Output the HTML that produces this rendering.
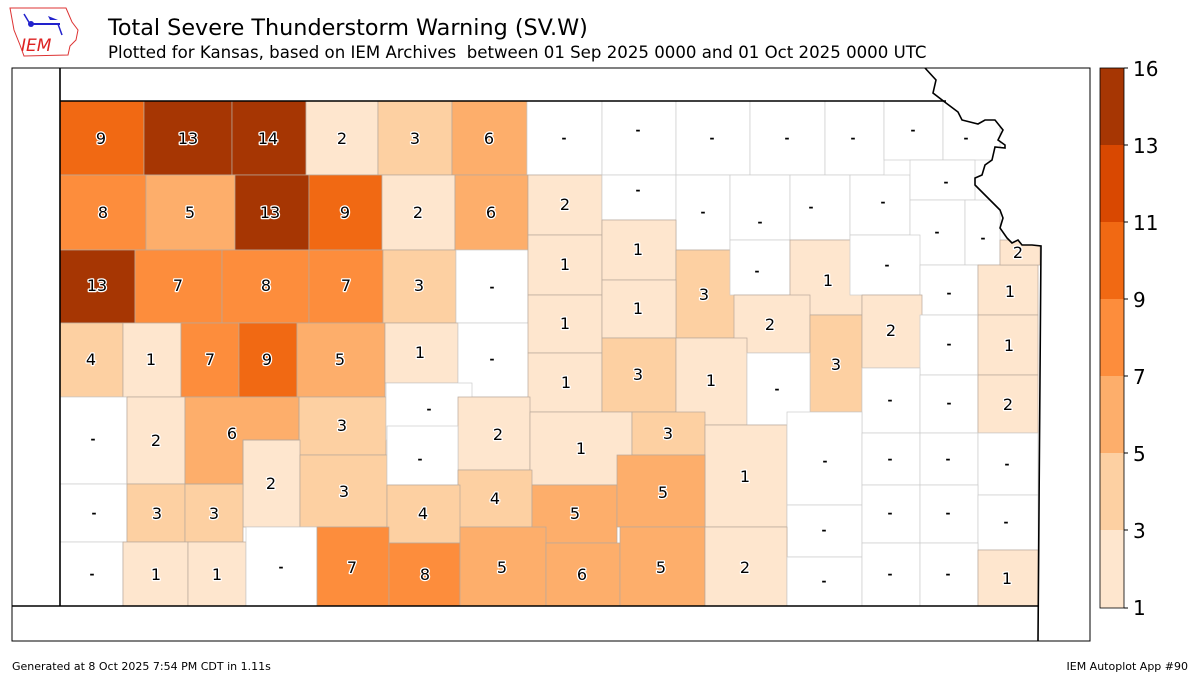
<!DOCTYPE html>
<html><head><meta charset="utf-8">
<style>
html,body{margin:0;padding:0;background:#fff;width:1200px;height:675px;overflow:hidden}
svg{display:block}
text{font-family:"DejaVu Sans","Liberation Sans",sans-serif}
</style></head><body>
<svg id="s" width="1200" height="675" xmlns="http://www.w3.org/2000/svg">
<rect width="1200" height="675" fill="#fff"/>
<g>
<path d="M10,8 L66,8 L72,22 L78,30 L76,40 L70,46 L68,55 L24,56 L20,45 L14,30 Z" fill="none" stroke="#d33" stroke-width="1"/>
<line x1="30" y1="24" x2="60" y2="24" stroke="#22c" stroke-width="2"/>
<circle cx="31" cy="24" r="3" fill="#22c"/>
<line x1="24" y1="14" x2="30" y2="24" stroke="#22c" stroke-width="1.5"/>
<path d="M48,16 L58,20 L50,20 Z" fill="#22c"/>
<line x1="58" y1="24" x2="62" y2="35" stroke="#22c" stroke-width="1.5"/>
<text x="21" y="51" font-family="Liberation Serif,serif" font-style="italic" font-size="17" fill="#d22">IEM</text>
</g>
<text x="108" y="35" font-size="22.3" fill="#000">Total Severe Thunderstorm Warning (SV.W)</text>
<text x="108" y="58" font-size="16.6" fill="#000" xml:space="preserve">Plotted for Kansas, based on IEM Archives  between 01 Sep 2025 0000 and 01 Oct 2025 0000 UTC</text>
<text x="12" y="670" font-size="11" fill="#000">Generated at 8 Oct 2025 7:54 PM CDT in 1.11s</text>
<text x="1188" y="670" font-size="11" fill="#000" text-anchor="end">IEM Autoplot App #90</text>
<g id="counties"></g>
<polygon points="185,397 299,397 299,440 243,440 243,484 185,484" fill="none" stroke="#b8a89a" stroke-width="0.7"/>
<polygon points="925,68 936,80 933,93 946,103 958,112 962,120 970,122 978,124 985,120 995,120 1003,130 998,140 1005,145 1005,148 995,147 992,160 985,165 982,175 975,178 975,185 985,195 990,200 995,205 1000,210 1003,218 1000,228 1007,238 1012,243 1018,240 1022,245 1032,245 1041,246 1089,246 1089,69 925,69" fill="#fff" stroke="none"/>
<g id="labels"></g>
<g fill="none" stroke="#000" stroke-width="1.6">
<polyline points="60,68 60,606"/>
<polyline points="12,606 1038,606"/>
<polyline points="60,101 946,101"/>
<polyline points="925,68 936,80 933,93 946,103 958,112 962,120 970,122 978,124 985,120 995,120 1003,130 998,140 1005,145 1005,148 995,147 992,160 985,165 982,175 975,178 975,185 985,195 990,200 995,205 1000,210 1003,218 1000,228 1007,238 1012,243 1018,240 1022,245 1032,245 1041,246 1038,641"/>
</g>
<rect x="12" y="68" width="1078" height="573" fill="none" stroke="#000" stroke-width="1"/>
<g>
<rect x="1100" y="530" width="24" height="78" fill="#fee6ce"/>
<rect x="1100" y="453" width="24" height="77" fill="#fdd0a2"/>
<rect x="1100" y="376" width="24" height="77" fill="#fdae6b"/>
<rect x="1100" y="299" width="24" height="77" fill="#fd8d3c"/>
<rect x="1100" y="222" width="24" height="77" fill="#f16913"/>
<rect x="1100" y="145" width="24" height="77" fill="#d94801"/>
<rect x="1100" y="68" width="24" height="77" fill="#a63603"/>
<rect x="1100" y="68" width="24" height="540" fill="none" stroke="#000" stroke-width="0.8"/>
<g font-size="20" fill="#000">
<text x="1133" y="615">1</text><text x="1133" y="538">3</text><text x="1133" y="461">5</text>
<text x="1133" y="384">7</text><text x="1133" y="307">9</text><text x="1133" y="230">11</text>
<text x="1133" y="153">13</text><text x="1133" y="76">16</text>
</g>
<g stroke="#000"><line x1="1124" x2="1128" y1="608" y2="608"/><line x1="1124" x2="1128" y1="530" y2="530"/><line x1="1124" x2="1128" y1="453" y2="453"/><line x1="1124" x2="1128" y1="376" y2="376"/><line x1="1124" x2="1128" y1="299" y2="299"/><line x1="1124" x2="1128" y1="222" y2="222"/><line x1="1124" x2="1128" y1="145" y2="145"/><line x1="1124" x2="1128" y1="68" y2="68"/></g>
</g>
</svg>
<script>
var D=[
[60,101,144,175,9,101,138],[144,101,232,175,13,188,138],[232,101,306,175,14,268,138],[306,101,378,175,2,342,138],[378,101,452,175,3,415,138],[452,101,527,175,6,489,138],
[527,101,602,175,0,564,138],[602,101,676,175,0,638,130],[676,101,750,175,0,712,138],[750,101,825,175,0,787,138],[825,101,884,175,0,853,138],[884,101,943,160,0,913,130],[943,101,1000,160,0,966,138],
[60,175,146,250,8,103,212],[146,175,235,250,5,190,212],[235,175,309,250,13,270,212],[309,175,382,250,9,345,212],[382,175,455,250,2,418,212],[455,175,528,250,6,491,212],
[528,175,602,235,2,565,204],[602,175,676,220,0,638,190],[676,175,730,250,0,703,212],[730,175,790,240,0,760,222],[790,175,850,240,0,811,207],[850,175,910,235,0,883,202],[910,160,975,200,0,946,182],[910,200,965,265,0,937,232],[965,200,1000,265,0,983,238],
[60,250,135,323,13,97,285],[135,250,222,323,7,178,285],[222,250,309,323,8,266,285],[309,250,383,323,7,346,285],[383,250,456,323,3,419,285],[456,250,528,323,0,492,287],
[528,235,602,295,1,565,264],[602,220,676,280,1,638,249],[676,250,738,338,3,704,294],[730,240,790,295,0,757,271],[790,240,862,315,1,828,280],[850,235,920,295,0,887,265],[920,265,978,315,0,949,293],[978,265,1038,315,1,1010,291],[1000,240,1040,265,2,1018,252],
[60,323,123,397,4,91,359],[123,323,181,397,1,151,359],[181,323,239,397,7,210,359],[239,323,297,397,9,267,359],[297,323,385,397,5,340,359],[385,323,458,383,1,420,352],[458,323,530,397,0,492,359],
[528,295,602,353,1,565,323],[602,280,676,338,1,638,308],[734,295,810,353,2,770,324],[810,315,862,412,3,836,364],[862,295,922,368,2,891,330],[920,315,978,375,0,949,344],[978,315,1038,375,1,1009,345],
[528,353,602,412,1,566,382],[602,338,676,412,3,638,374],[676,338,747,425,1,711,380],[747,353,810,425,0,777,389],[862,368,920,433,0,890,400],[920,375,978,433,0,949,403],[978,375,1038,433,2,1008,404],
[60,397,127,484,0,93,439],[127,397,185,484,2,156,440],[185,397,299,440,6,232,433,1],[185,440,243,484,6,-1,0,1],[299,397,386,455,3,342,425],[386,383,472,440,0,429,409],[458,397,530,470,2,498,434],
[530,412,632,485,1,581,448],[632,412,705,455,3,668,433],[705,425,787,527,1,745,476],[787,412,862,505,0,825,461],[862,433,920,485,0,890,459],[920,433,978,485,0,948,459],[978,433,1038,495,0,1007,464],
[243,440,300,527,2,271,483],[300,455,387,527,3,344,491],[387,426,458,485,0,420,459],[458,470,532,527,4,495,498],[532,485,617,543,5,575,513],[617,455,705,527,5,663,492],[787,505,862,557,0,824,530],[862,485,920,543,0,890,513],[920,485,978,543,0,948,513],[978,495,1038,550,0,1006,522],
[60,484,127,542,0,94,513],[127,484,185,542,3,157,513],[185,484,243,542,3,214,513],[387,485,460,543,4,423,513],
[60,542,123,606,0,92,574],[123,542,188,606,1,156,574],[188,542,246,606,1,217,574],[246,527,317,606,0,281,567],[317,527,389,606,7,352,567],[389,543,460,606,8,425,574],[460,527,546,606,5,502,567],[546,543,620,606,6,582,574],[620,527,705,606,5,661,567],[705,527,787,606,2,745,567],[787,557,862,606,0,824,581],[862,543,920,606,0,890,574],[920,543,978,606,0,948,574],[978,550,1038,606,1,1007,578]
];
function col(v){if(v<=0)return"#ffffff";if(v<3)return"#fee6ce";if(v<5)return"#fdd0a2";if(v<7)return"#fdae6b";if(v<9)return"#fd8d3c";if(v<11)return"#f16913";if(v<13)return"#d94801";return"#a63603";}
var ns="http://www.w3.org/2000/svg",g=document.getElementById("counties"),L=document.getElementById("labels");
D.forEach(function(d){var r=document.createElementNS(ns,"rect");r.setAttribute("x",d[0]);r.setAttribute("y",d[1]);r.setAttribute("width",d[2]-d[0]);r.setAttribute("height",d[3]-d[1]);r.setAttribute("fill",col(d[4]));
if(d[7]){r.setAttribute("stroke","none");r.setAttribute("height",d[3]-d[1]+1);}else{r.setAttribute("stroke",d[4]>0?"#b8a89a":"#cccccc");r.setAttribute("stroke-width","0.7");}
g.appendChild(r);
if(d[5]<0)return;
var t=document.createElementNS(ns,"text");t.setAttribute("x",d[5]);t.setAttribute("y",d[6]+6);t.setAttribute("text-anchor","middle");
if(d[4]>0){t.textContent=d[4];t.setAttribute("font-size","16");t.setAttribute("fill","#000");t.setAttribute("stroke","#fff");t.setAttribute("stroke-width","2.5");t.setAttribute("paint-order","stroke");t.setAttribute("stroke-linejoin","round");}
else{t.textContent="-";t.setAttribute("font-size","12");t.setAttribute("font-weight","bold");t.setAttribute("fill","#000");t.setAttribute("y",d[6]+4);}
L.appendChild(t);});
</script>
</body></html>
